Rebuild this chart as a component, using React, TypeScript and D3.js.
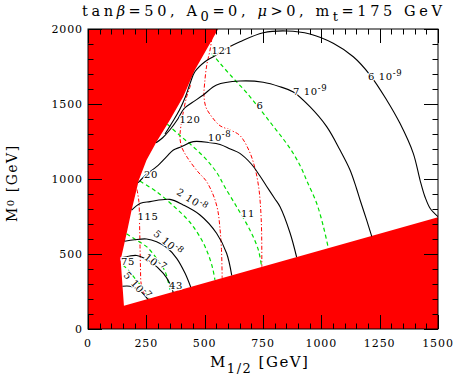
import React, { Component } from 'react'
import * as d3 from 'd3'

type Pt = [number, number]

const xTicks = [0, 250, 500, 750, 1000, 1250, 1500]
const yTicks = [0, 500, 1000, 1500, 2000]

// allowed (white) part of the plane, [M1/2, M0] in GeV
const allowedRegion: Pt[] = [
  [558, 2000], [1500, 2000], [1500, 745], [154, 155], [140, 460], [166, 640],
  [187, 793], [218, 993], [251, 1127], [294, 1249], [351, 1393], [408, 1549],
  [458, 1727], [558, 2000],
]

// BR contours (black, solid)
const br6e9: Pt[] = [
  [330, 1300], [362, 1380], [392, 1460], [418, 1550], [438, 1640], [458, 1715],
  [501, 1782], [537, 1815], [594, 1871], [651, 1915], [751, 1975], [852, 1987],
  [951, 1967], [1051, 1905], [1137, 1815], [1209, 1693], [1280, 1527], [1337, 1371],
  [1394, 1171], [1423, 993], [1444, 882], [1466, 805], [1500, 749],
]
const br7e9: Pt[] = [
  [292, 1242], [320, 1275], [352, 1330], [385, 1400], [412, 1470], [445, 1508],
  [494, 1560], [551, 1627], [651, 1653], [751, 1645], [823, 1615], [880, 1580],
  [951, 1482], [1023, 1349], [1080, 1193], [1123, 1060], [1150, 940], [1166, 860],
  [1194, 727], [1216, 618],
]
const br1e8: Pt[] = [
  [215, 975], [250, 1030], [294, 1082], [337, 1149], [366, 1193], [400, 1215],
  [451, 1249], [523, 1242], [566, 1230], [610, 1200], [651, 1171], [700, 1100],
  [737, 1020], [766, 950], [800, 870], [823, 815], [866, 640], [894, 480],
]
const br2e8: Pt[] = [
  [187, 793], [225, 838], [266, 849], [351, 864], [408, 827], [480, 760],
  [551, 638], [594, 505], [616, 358],
]
const br5e8: Pt[] = [
  [157, 585], [200, 595], [251, 600], [294, 582], [340, 540], [380, 471],
  [416, 371], [440, 280],
]
const br1e7: Pt[] = [
  [142, 475], [175, 485], [209, 490], [266, 449], [323, 371], [352, 300], [365, 245],
]
const br5e7: Pt[] = [[148, 285], [180, 285], [215, 265], [240, 230], [256, 199]]

// g-2 contours (green, dashed)
const g6: Pt[] = [
  [530, 1838], [566, 1771], [623, 1671], [680, 1575], [740, 1460], [790, 1360],
  [840, 1260], [880, 1170], [915, 1070], [940, 980], [980, 838], [1009, 682], [1030, 539],
]
const g11: Pt[] = [
  [340, 1365], [394, 1290], [451, 1215], [509, 1127], [555, 1035], [585, 950],
  [637, 815], [694, 660], [730, 527], [744, 414],
]
const g20: Pt[] = [
  [223, 985], [294, 915], [370, 815], [435, 715], [485, 600], [515, 500], [535, 400], [544, 327],
]
const g43: Pt[] = [[165, 635], [200, 600], [251, 549], [294, 470], [330, 385], [352, 262], [356, 245]]
const g75: Pt[] = [[150, 425], [173, 393], [201, 338], [230, 282], [250, 235], [262, 203]]

// Higgs mass contours (red, dash-dot)
const h121: Pt[] = [
  [537, 2000], [523, 1860], [509, 1760], [500, 1640], [497, 1560], [505, 1480],
  [530, 1416], [566, 1355], [609, 1327], [651, 1290], [690, 1190], [716, 1070],
  [732, 940], [740, 800], [744, 650], [745, 415],
]
const h120: Pt[] = [
  [440, 1625], [425, 1560], [410, 1460], [398, 1350], [394, 1280], [401, 1215],
  [425, 1145], [470, 1050], [505, 990], [535, 900], [555, 800], [565, 680],
  [572, 530], [575, 340],
]
const h115: Pt[] = [[210, 930], [218, 850], [221, 700], [223, 550], [225, 400], [228, 300], [240, 240], [260, 204]]

const brLines = [br6e9, br7e9, br1e8, br2e8, br5e8, br1e7, br5e7]
const gLines = [g6, g11, g20, g43, g75]
const hLines = [h121, h120, h115]

// contour labels: text, exponent, where (GeV), rotation
const contourLabels = [
  { t: '6 10', e: '-9', at: [1200, 1660], r: 0, start: true },
  { t: '7 10', e: '-9', at: [879, 1560], r: 0, start: true },
  { t: '10', e: '-8', at: [514, 1253], r: 0, start: true },
  { t: '2 10', e: '-8', at: [446, 860], r: 33, start: false },
  { t: '5 10', e: '-8', at: [343, 573], r: 40, start: false },
  { t: '10', e: '-7', at: [287, 440], r: 38, start: false },
  { t: '5 10', e: '-7', at: [210, 287], r: 48, start: false },
  { t: '6', e: '', at: [737, 1493], r: 0, start: false },
  { t: '11', e: '', at: [686, 773], r: 0, start: false },
  { t: '20', e: '', at: [270, 1027], r: 0, start: false },
  { t: '43', e: '', at: [377, 287], r: 0, start: false },
  { t: '75', e: '', at: [171, 453], r: 0, start: false },
  { t: '115', e: '', at: [257, 753], r: 0, start: false },
  { t: '120', e: '', at: [437, 1400], r: 0, start: false },
  { t: '121', e: '', at: [574, 1860], r: 0, start: false },
]

const FONT = '"DejaVu Serif", serif'

class ContourChart extends Component {
  node: SVGSVGElement | null = null

  componentDidMount() {
    this.drawChart()
  }

  componentDidUpdate() {
    this.drawChart()
  }

  drawChart() {
    const svg = d3.select(this.node)
    svg.selectAll('*').remove()

    const x = d3.scaleLinear().domain([0, 1500]).range([88, 438])
    const y = d3.scaleLinear().domain([0, 2000]).range([329, 29])
    const [x0, x1] = x.range()
    const [y0, y1] = y.range()

    svg.append('clipPath').attr('id', 'plot')
      .append('rect').attr('x', x0).attr('y', y1).attr('width', x1 - x0).attr('height', y0 - y1)

    const g = svg.append('g').attr('clip-path', 'url(#plot)')

    // excluded regions: red everywhere, allowed region in white
    g.append('rect').attr('x', x0).attr('y', y1).attr('width', x1 - x0).attr('height', y0 - y1)
      .attr('fill', '#ff0000')
    g.append('path')
      .attr('d', d3.line<Pt>().x(d => x(d[0])).y(d => y(d[1]))(allowedRegion) + 'Z')
      .attr('fill', '#fff')

    const line = d3.line<Pt>().x(d => x(d[0])).y(d => y(d[1])).curve(d3.curveCatmullRom.alpha(0.5))

    g.selectAll('path.h').data(hLines).enter().append('path').attr('class', 'h')
      .attr('d', d => line(d)).attr('fill', 'none').attr('stroke', '#ff0000')
      .attr('stroke-width', 1).attr('stroke-dasharray', '4,2,1.2,2')
    g.selectAll('path.gm').data(gLines).enter().append('path').attr('class', 'gm')
      .attr('d', d => line(d)).attr('fill', 'none').attr('stroke', '#00e000')
      .attr('stroke-width', 1.2).attr('stroke-dasharray', '4,3')
    g.selectAll('path.br').data(brLines).enter().append('path').attr('class', 'br')
      .attr('d', d => line(d)).attr('fill', 'none').attr('stroke', '#000')
      .attr('stroke-width', 1.1)

    // labels
    contourLabels.forEach(l => {
      const px = x(l.at[0])
      const py = y(l.at[1])
      const t = g.append('text')
        .attr('transform', `translate(${px},${py}) rotate(${l.r})`)
        .attr('text-anchor', l.start ? 'start' : 'middle')
        .attr('dy', l.start ? 0 : '0.35em')
        .attr('font-family', FONT).attr('font-size', 10).attr('letter-spacing', 0.6)
        .attr('fill', '#000')
        .attr('stroke', '#fff').attr('stroke-width', 2.5).attr('paint-order', 'stroke')
        .attr('stroke-linejoin', 'round')
      t.append('tspan').text(l.t)
      if (l.e) {
        t.append('tspan').attr('dy', -4).attr('font-size', 8.5).text(l.e)
      }
    })

    // frame and inward ticks
    const axes = svg.append('g').attr('stroke', '#000').attr('stroke-width', 1)
    const xt = d3.range(0, 1501, 50)
    const yt = d3.range(0, 2001, 100)
    xt.forEach(v => {
      const len = v % 250 === 0 ? 14 : 5.5
      const px = Math.round(x(v)) + 0.5
      axes.append('line').attr('x1', px).attr('x2', px).attr('y1', y0).attr('y2', y0 - len)
      axes.append('line').attr('x1', px).attr('x2', px).attr('y1', y1).attr('y2', y1 + len)
    })
    yt.forEach(v => {
      const len = v % 500 === 0 ? 14 : 5.5
      const py = Math.round(y(v)) + 0.5
      axes.append('line').attr('x1', x0).attr('x2', x0 + len).attr('y1', py).attr('y2', py)
      axes.append('line').attr('x1', x1).attr('x2', x1 - len).attr('y1', py).attr('y2', py)
    })
    axes.append('rect').attr('x', x0).attr('y', y1).attr('width', x1 - x0).attr('height', y0 - y1)
      .attr('fill', 'none')

    // tick labels
    svg.selectAll('text.xl').data(xTicks).enter().append('text').attr('class', 'xl')
      .attr('x', d => x(d)).attr('y', 347).attr('text-anchor', 'middle')
      .attr('font-family', FONT).attr('font-size', 11).attr('letter-spacing', 0.9)
      .text(d => d)
    svg.selectAll('text.yl').data(yTicks).enter().append('text').attr('class', 'yl')
      .attr('x', 83).attr('y', d => y(d) + 4).attr('text-anchor', 'end')
      .attr('font-family', FONT).attr('font-size', 11).attr('letter-spacing', 0.9)
      .text(d => d)

    // axis titles
    const xtitle = svg.append('text').attr('x', 210).attr('y', 367)
      .attr('font-family', FONT).attr('font-size', 15).attr('letter-spacing', 1.5)
    xtitle.append('tspan').text('M')
    xtitle.append('tspan').attr('dy', 6).attr('font-size', 13).text('1/2')
    xtitle.append('tspan').attr('dy', -6).text(' [GeV]')

    const ytitle = svg.append('text').attr('transform', 'translate(17,222) rotate(-90)')
      .attr('font-family', FONT).attr('font-size', 14).attr('letter-spacing', 1.5)
    ytitle.append('tspan').text('M')
    ytitle.append('tspan').attr('dy', -3).attr('font-size', 10).text('0')
    ytitle.append('tspan').attr('dy', 3).text(' [GeV]')

    // title
    const title = svg.append('text').attr('x', 82).attr('y', 16)
      .attr('font-family', FONT).attr('font-size', 14.5).attr('letter-spacing', 3.6)
    title.append('tspan').text('tan')
    title.append('tspan').attr('font-style', 'italic').text('β')
    title.append('tspan').text('=50, A')
    title.append('tspan').attr('dy', 5).attr('font-size', 13).text('0')
    title.append('tspan').attr('dy', -5).text('=0, ')
    title.append('tspan').attr('font-style', 'italic').text('μ')
    title.append('tspan').text('>0, m')
    title.append('tspan').attr('dy', 5).attr('font-size', 13).text('t')
    title.append('tspan').attr('dy', -5).text('=175 GeV')
  }

  render() {
    return (
      <svg
        ref={node => {
          this.node = node
        }}
        width={457}
        height={382}
        style={{ position: 'absolute', left: 0, top: 0, background: '#fff' }}
      ></svg>
    )
  }
}

export default function App() {
  return <ContourChart />
}
